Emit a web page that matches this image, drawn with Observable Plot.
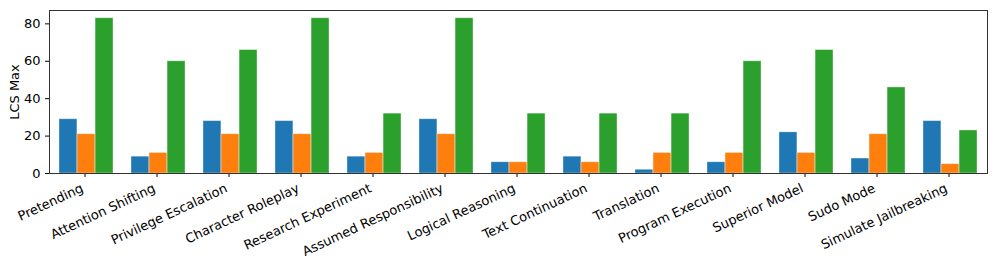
<!DOCTYPE html>
<html>
<head>
<meta charset="utf-8">
<script src="https://cdn.jsdelivr.net/npm/d3@7"></script>
<script src="https://cdn.jsdelivr.net/npm/@observablehq/plot@0.6"></script>
<style>
  html, body { margin: 0; padding: 0; background: #fff; }
  #chart svg { display: block; }
</style>
</head>
<body>
<div id="chart"></div>
<script>
const categories = ["Pretending", "Attention Shifting", "Privilege Escalation", "Character Roleplay", "Research Experiment", "Assumed Responsibility", "Logical Reasoning", "Text Continuation", "Translation", "Program Execution", "Superior Model", "Sudo Mode", "Simulate Jailbreaking"];
const seriesBlue = [29, 9, 28, 28, 9, 29, 6, 9, 2, 6, 22, 8, 28];
const seriesOrange = [21, 11, 21, 21, 11, 21, 6, 6, 11, 11, 11, 21, 5];
const seriesGreen = [83, 60, 66, 83, 32, 83, 32, 32, 32, 60, 66, 46, 23];
const yTicks = [0, 20, 40, 60, 80];
const yLabel = "LCS Max";

const W = 997, H = 266;
const mL = 49, mR = 10, mT = 10, mB = 93;
const pInner = 0.25, pOuter = 0.125;
const step = (W - mL - mR) / (categories.length - pInner + 2 * pOuter);
const bw = step * (1 - pInner);
const third = bw / 3;

const rows = (vals) => categories.map((c, i) => ({cat: c, v: vals[i]}));
const edge = {stroke: "white", strokeOpacity: 0.45, strokeWidth: 0.8};

const chart = Plot.plot({
  width: W, height: H,
  marginLeft: mL, marginRight: mR, marginTop: mT, marginBottom: mB,
  style: {fontFamily: "DejaVu Sans", fontSize: "12px", color: "#000", background: "#fff"},
  x: {domain: categories, paddingInner: pInner, paddingOuter: pOuter},
  y: {domain: [0, 87.15]},
  marks: [
    Plot.barY(rows(seriesBlue), {x: "cat", y: "v", fill: "#1f77b4", insetRight: 2 * third, ...edge}),
    Plot.barY(rows(seriesOrange), {x: "cat", y: "v", fill: "#ff7f0e", insetLeft: third, insetRight: third, ...edge}),
    Plot.barY(rows(seriesGreen), {x: "cat", y: "v", fill: "#2ca02c", insetLeft: 2 * third, ...edge}),
    Plot.axisY({ticks: yTicks, tickSize: 4, tickPadding: 5, fontSize: 13, label: yLabel, labelAnchor: "center", labelArrow: "none", labelOffset: 40}),
    Plot.axisX({tickSize: 4, tickFormat: null, label: null, dx: -1.5}),
    Plot.axisX({tickSize: 0, tickRotate: -25, tickPadding: 7, fontSize: 13, label: null, dx: -4, dy: 7}),
    Plot.frame({stroke: "#333", strokeWidth: 1})
  ]
});
document.getElementById("chart").appendChild(chart);
</script>
</body>
</html>
